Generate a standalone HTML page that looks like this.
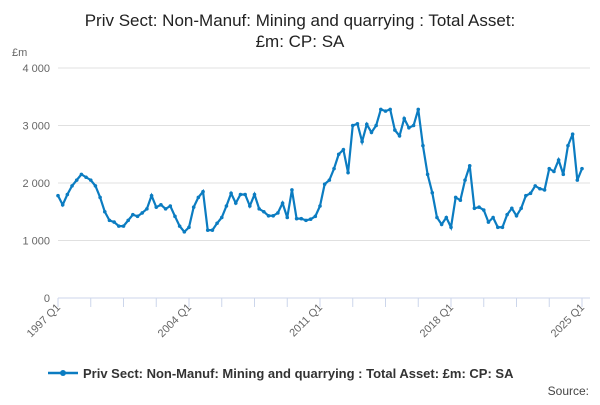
<!DOCTYPE html>
<html><head><meta charset="utf-8"><style>
body{margin:0;background:#fff;font-family:"Liberation Sans",sans-serif}
</style></head><body>
<svg id="c" width="600" height="400" xmlns="http://www.w3.org/2000/svg">
<text x="300" y="26" text-anchor="middle" font-size="17" fill="#222">Priv Sect: Non-Manuf: Mining and quarrying : Total Asset:</text>
<text x="300" y="47" text-anchor="middle" font-size="17" fill="#222">£m: CP: SA</text>
<text x="12" y="56" font-size="11" fill="#666">£m</text>
<g id="grid"></g><g id="xt"></g><g id="series"></g>
<g>
<line x1="48" y1="373" x2="78" y2="373" stroke="#0b7cc1" stroke-width="2.5"/>
<circle cx="63" cy="373" r="3" fill="#0b7cc1"/>
<text x="83" y="378" font-size="13" font-weight="bold" fill="#333">Priv Sect: Non-Manuf: Mining and quarrying : Total Asset: £m: CP: SA</text>
</g>
<text x="589" y="395" text-anchor="end" font-size="12" fill="#444">Source:</text>
</svg>
<script>
const values=[1780,1620,1800,1950,2050,2150,2100,2050,1950,1750,
1500,1350,1320,1250,1250,1350,1450,1420,1480,1550,
1780,1580,1620,1550,1600,1420,1250,1150,1230,1580,
1750,1850,1180,1180,1300,1400,1600,1820,1650,1800,
1800,1600,1800,1550,1500,1430,1430,1480,1650,1400,
1880,1380,1380,1350,1370,1420,1600,1980,2050,2250,
2500,2580,2180,3000,3030,2720,3020,2880,3000,3280,
3250,3280,2920,2820,3120,2960,3000,3280,2650,2150,
1830,1400,1280,1400,1230,1750,1700,2050,2300,1560,
1580,1530,1320,1400,1230,1230,1450,1560,1430,1560,
1780,1820,1950,1900,1880,2250,2200,2400,2150,2650,
2850,2050,2250];
const yTicks=[0,1000,2000,3000,4000];
const yTickLabels=["0","1 000","2 000","3 000","4 000"];
const xTickIdx=[0,28,56,84,112];
const xTickLabels=["1997 Q1","2004 Q1","2011 Q1","2018 Q1","2025 Q1"];
const NS="http://www.w3.org/2000/svg";
const x0=58,x1=582,yb=298,yt=68;
const X=i=>x0+i*(x1-x0)/(values.length-1);
const Y=v=>yb-v*(yb-yt)/4000;
function mk(t,a,p){const e=document.createElementNS(NS,t);for(const k in a)e.setAttribute(k,a[k]);p.appendChild(e);return e;}
const g=document.getElementById('grid');
yTicks.forEach((v,i)=>{
 const l=mk('line',{x1:x0,x2:590,y1:Y(v),y2:Y(v),stroke:i==0?'#ccd6eb':'#e0e0e0'},g);
 
 
 const t=mk('text',{x:50,y:Y(v)+4,'text-anchor':'end','font-size':11,fill:'#666'},g);
 t.textContent=yTickLabels[i];
 
 
});
const xt=document.getElementById('xt');
for(let i=0;i<values.length;i+=7){mk('line',{x1:X(i),x2:X(i),y1:yb,y2:yb+9,stroke:'#ccd6eb'},xt);}
xTickIdx.forEach((idx,i)=>{
 const t=mk('text',{x:X(idx)+3,y:yb+10,'text-anchor':'end','font-size':11,fill:'#666',transform:`rotate(-45 ${X(idx)+3} ${yb+10})`},xt);
 t.textContent=xTickLabels[i];
 
 
});
const s=document.getElementById('series');
const pl=mk('polyline',{points:values.map((v,i)=>X(i)+','+Y(v)).join(' '),fill:'none',stroke:'#0b7cc1','stroke-width':2.2},s);


values.forEach((v,i)=>{
 const c=mk('circle',{cx:X(i),cy:Y(v),r:1.8,fill:'#0b7cc1'},s);
 
 
});
</script>
</body></html>
